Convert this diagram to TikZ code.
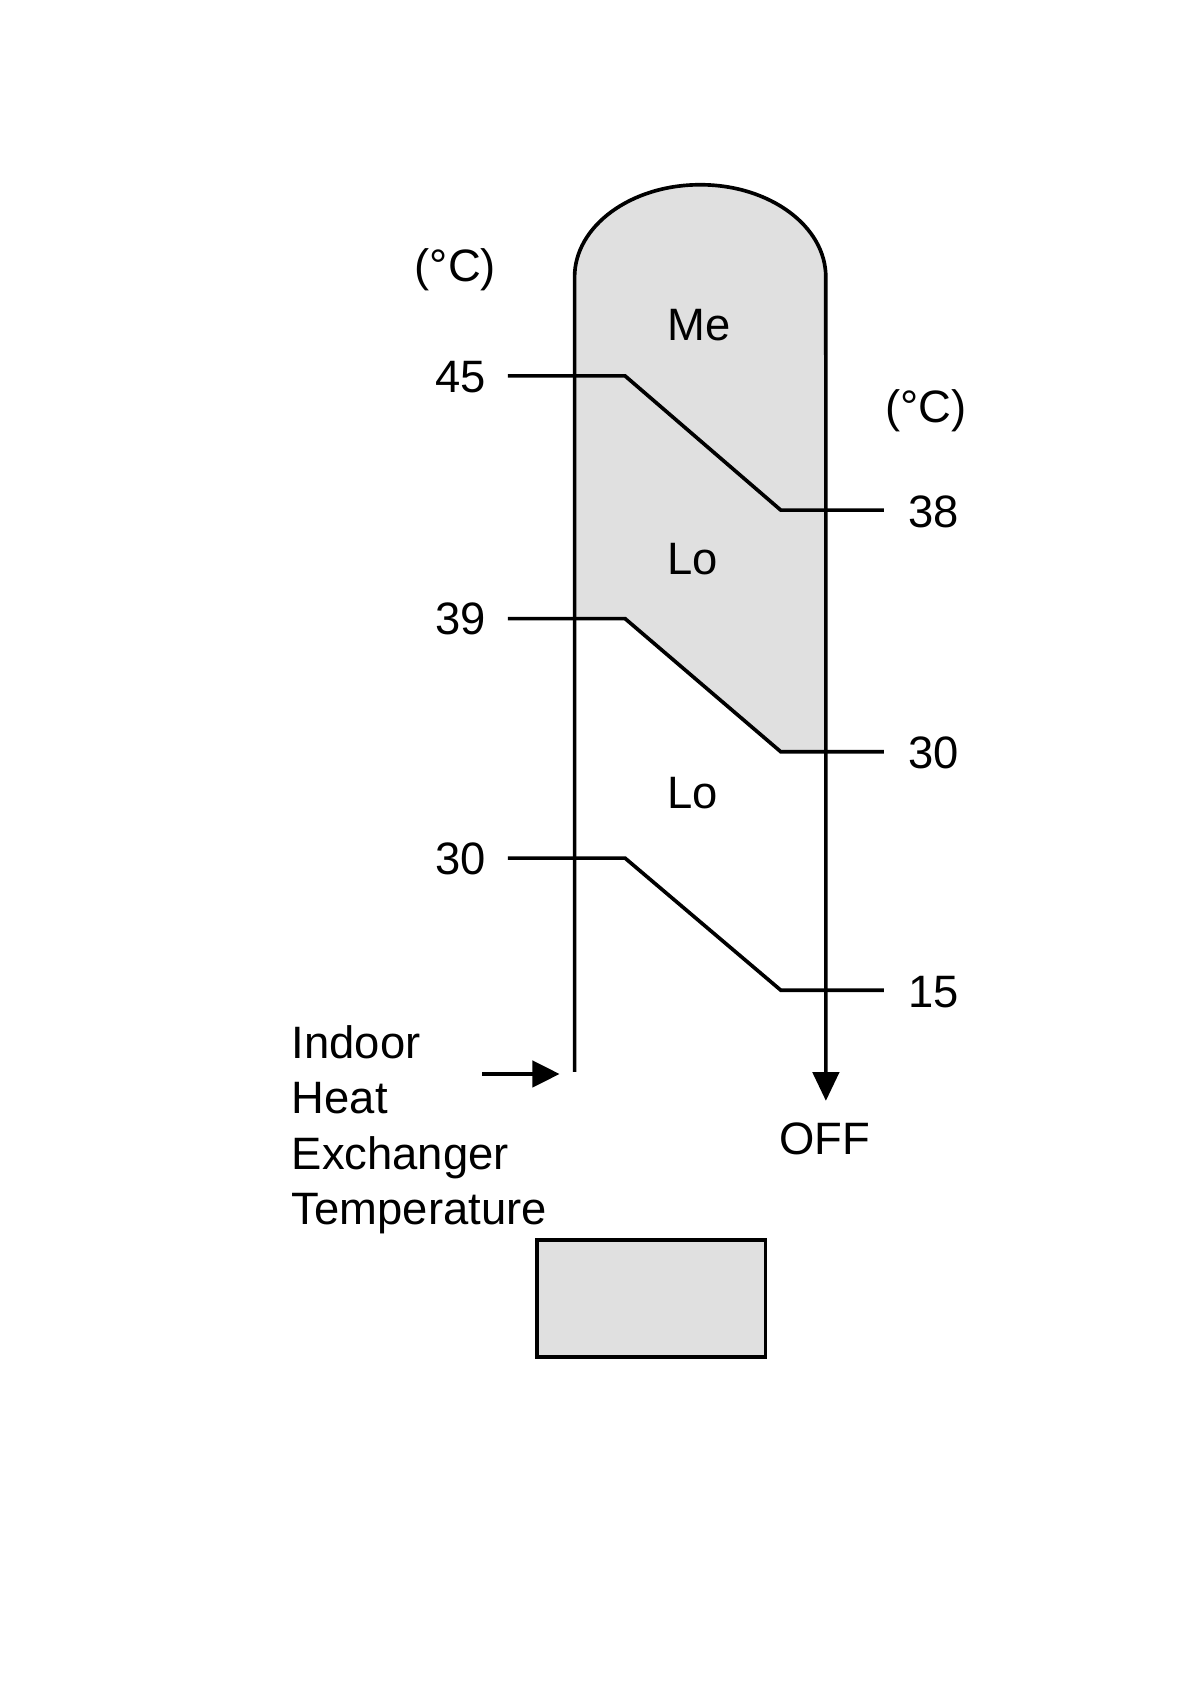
\documentclass[tikz,border=0pt]{standalone}
\usepackage{fontspec}
\setmainfont{Liberation Sans}
\usetikzlibrary{arrows.meta}

\begin{document}
\begin{tikzpicture}[x=0.02685cm,y=-0.02685cm,line width=2.6pt,
  etiqueta/.style={anchor=base,inner sep=0pt,font=\fontsize{32.3}{38}\selectfont},
  punta/.style={-{Triangle[length=0.72cm,width=0.66cm]}}]
% Bordes del tubo
\def\xi{535}
\def\xd{769}
\def\yarc{258}

\useasboundingbox (0,0) rectangle (1108,1568);

\coordinate (arcizq) at (\xi,\yarc);
\coordinate (finizq) at (\xi,998);
\coordinate (finder) at (\xd,1025);

% Zona gris
\fill[black!12] (\xi,576) -- (arcizq)
  arc[start angle=180,end angle=0,x radius=3.141cm,y radius=2.309cm]
  -- (\xd,700) -- (727,700) -- (582,576) -- cycle;

% Tubo
\draw[punta] (finizq) -- (arcizq)
  arc[start angle=180,end angle=0,x radius=3.141cm,y radius=2.309cm]
  -- (finder);

% Escalones
\foreach \a/\b/\ya/\yb/\n in {45/38/350/475/1, 39/30/576/700/2, 30/15/799/922/3} {
    \coordinate (p\n a) at (473,\ya);
    \coordinate (p\n b) at (582,\ya);
    \coordinate (p\n c) at (727,\yb);
    \coordinate (p\n d) at (823,\yb);
    \draw (p\n a) -- (p\n b) -- (p\n c) -- (p\n d);
    \node[etiqueta] (ti\n) at (429,\ya+15) {\a};
    \node[etiqueta] (td\n) at (869,\yb+16) {\b};
}

% Unidades y zonas
\node[etiqueta] (gradi) at (424,262) {(°C)};
\node[etiqueta] (gradd) at (862,393) {(°C)};
\node[etiqueta] (me) at (651,317) {Me};
\node[etiqueta] (lo1) at (645,535) {Lo};
\node[etiqueta] (lo2) at (645,753) {Lo};
\node[etiqueta] (off) at (768,1075) {OFF};

% Texto de la temperatura
\foreach \t/\yt/\n in {Indoor/986/1, Heat/1037/2, Exchanger/1089/3, Temperature/1140/4}
    \node[etiqueta,anchor=base west] (txt\n) at (270,\yt) {\t};

\coordinate (flecha) at (449,1000);
\coordinate (flechafin) at (521,1000);
\draw[-{Triangle[length=0.68cm,width=0.66cm]}] (flecha) -- (flechafin);

% Leyenda
\node[draw,fill=black!12,minimum width=5.72cm,minimum height=2.93cm,
  inner sep=0pt,anchor=north west] (leyenda) at (498,1153) {};
\end{tikzpicture}
\end{document}
